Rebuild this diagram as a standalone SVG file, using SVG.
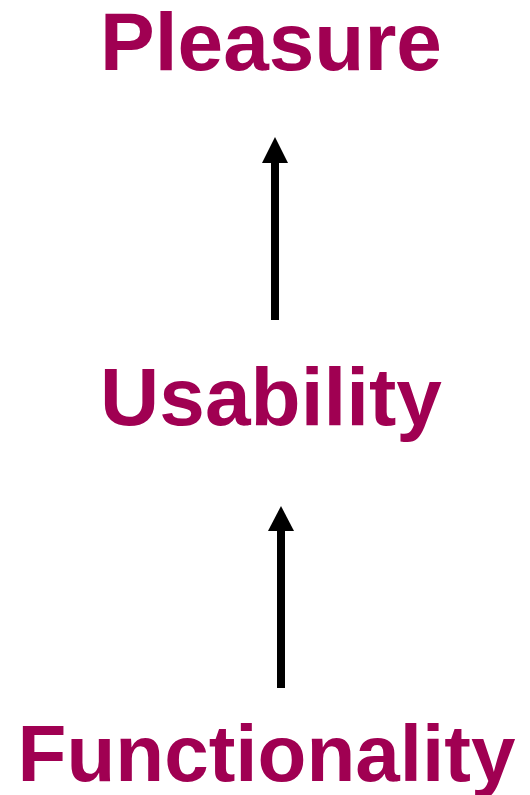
<svg xmlns="http://www.w3.org/2000/svg" width="530" height="795" viewBox="0 0 530 795">
<style>
.lbl{font-family:"Liberation Sans",Arial,sans-serif;font-weight:bold;font-size:82px;fill:#A00052;text-anchor:middle}
.ln{stroke:#000;stroke-width:8;fill:none}
</style>
<rect width="530" height="795" fill="#fff"/>
<g id="pleasure"><text class="lbl" x="271" y="70">Pleasure</text></g>
<g id="usability"><text class="lbl" x="271" y="425">Usability</text></g>
<g id="functionality"><text class="lbl" x="266.5" y="781" style="font-size:80px">Functionality</text></g>
<g id="connectors">
<line class="ln" x1="275" y1="320" x2="275" y2="162"/>
<path d="M262,163 L275,137 L288,163 Z" fill="#000"/>
<line class="ln" x1="281" y1="688" x2="281" y2="530"/>
<path d="M268,531 L281,506 L294,531 Z" fill="#000"/>
</g>
</svg>
